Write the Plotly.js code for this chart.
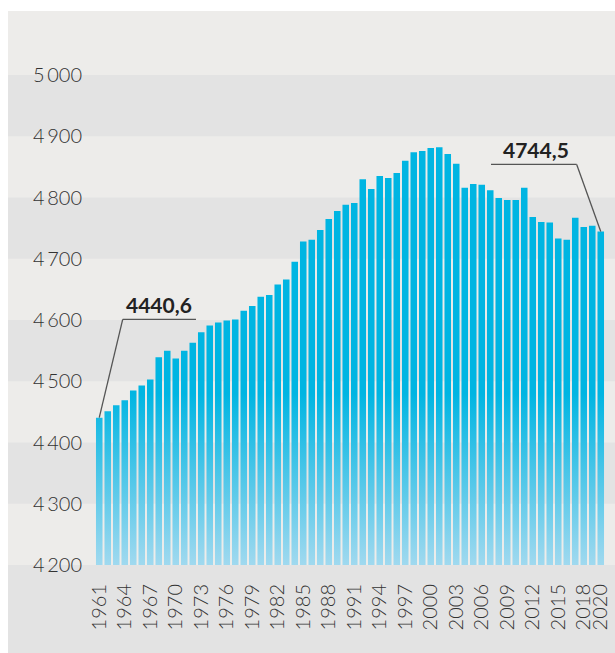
<!DOCTYPE html>
<html><head><meta charset="utf-8">
<script src="https://cdn.plot.ly/plotly-3.0.1.min.js"></script>
<style>html,body{margin:0;padding:0;background:#fff}</style>
</head><body><div id="chart" style="width:615px;height:653px"></div>
<script>
const years = [1961,1962,1963,1964,1965,1966,1967,1968,1969,1970,
  1971,1972,1973,1974,1975,1976,1977,1978,1979,1980,
  1981,1982,1983,1984,1985,1986,1987,1988,1989,1990,
  1991,1992,1993,1994,1995,1996,1997,1998,1999,2000,
  2001,2002,2003,2004,2005,2006,2007,2008,2009,2010,
  2011,2012,2013,2014,2015,2016,2017,2018,2019,2020];
const values = [4440.6,4451,4461,4469,4485,4493,4503,4539,4550,4537,
  4550,4563,4580,4591,4596,4599,4601,4615,4623,4638,
  4641,4658,4666,4695,4728,4731,4747,4765,4778,4788,
  4791,4830,4814,4835,4832,4840,4860,4874,4876,4881,
  4882,4871,4855,4816,4822,4821,4812,4799,4796,4796,
  4816,4768,4760,4759,4733,4731,4767,4752,4754,4744.5];
const xTickVals = [1961,1964,1967,1970,1973,1976,1979,1982,1985,1988,1991,1994,1997,2000,2003,2006,2009,2012,2015,2018,2020];
const xTickText = ['1961','1964','1967','1970','1973','1976','1979','1982','1985','1988','1991','1994','1997','2000','2003','2006','2009','2012','2015','2018','2020'];
const yTickVals = [4200,4300,4400,4500,4600,4700,4800,4900,5000];
const yTickText = ['4\u2009200','4\u2009300','4\u2009400','4\u2009500','4\u2009600','4\u2009700','4\u2009800','4\u2009900','5\u2009000'];
const darkBands = [[4300,4400],[4500,4600],[4700,4800],[4900,5000]];

const fmt = v => String(v).replace('.', ',');
const first = 0, last = values.length - 1;

const DARK = '#e3e3e3', LIGHT = '#edecea';
const shapes = [
  {type:'rect', xref:'paper', yref:'paper', x0:-0.1706, x1:1.05, y0:-0.25, y1:0, fillcolor:DARK, line:{width:0}, layer:'below'},
  {type:'rect', xref:'paper', yref:'paper', x0:-0.1706, x1:1.05, y0:0, y1:1, fillcolor:LIGHT, line:{width:0}, layer:'below'}
];
darkBands.forEach(b => shapes.push({type:'rect', xref:'paper', yref:'y', x0:-0.1706, x1:1.05, y0:b[0], y1:b[1], fillcolor:DARK, line:{width:0}, layer:'below'}));

const lineStyle = {color:'#555555', width:1.3};
const c1 = {ux0:1963.76, ux1:1972.38, uy:4601};
const c2 = {ux0:2007.09, ux1:2017.17, uy:4854};
shapes.push({type:'line', xref:'x', yref:'y', x0:c1.ux0, x1:c1.ux1, y0:c1.uy, y1:c1.uy, line:lineStyle});
shapes.push({type:'line', xref:'x', yref:'y', x0:c1.ux0, y0:c1.uy, x1:years[first], y1:values[first], line:lineStyle});
shapes.push({type:'line', xref:'x', yref:'y', x0:c2.ux0, x1:c2.ux1, y0:c2.uy, y1:c2.uy, line:lineStyle});
shapes.push({type:'line', xref:'x', yref:'y', x0:c2.ux1, y0:c2.uy, x1:years[last], y1:values[last], line:lineStyle});

const annFont = {family:'Lato, sans-serif', size:21, color:'#222222', weight:700};
const annotations = [
  {x:(c1.ux0+c1.ux1)/2, y:c1.uy, xref:'x', yref:'y', text:fmt(values[first]), showarrow:false, yanchor:'bottom', xanchor:'center', font:annFont},
  {x:(c2.ux0+c2.ux1)/2 + 0.2, y:c2.uy, xref:'x', yref:'y', text:fmt(values[last]), showarrow:false, yanchor:'bottom', xanchor:'center', font:annFont}
];

const data = [{
  type:'bar', x:years, y:values, base:0,
  marker:{color:'#00b5e2', line:{width:0}},
  hoverinfo:'skip'
}];

const tickFont = {family:'Lato, sans-serif', size:20, color:'#333333', weight:300};
const layout = {
  width:615, height:653,
  margin:{l:95, r:10, t:11, b:88, pad:0},
  paper_bgcolor:'#ffffff', plot_bgcolor:'rgba(0,0,0,0)',
  showlegend:false, bargap:0.23,
  font:{family:'Lato, sans-serif', color:'#333333'},
  xaxis:{range:[1960.5,2020.5], tickmode:'array', tickvals:xTickVals, ticktext:xTickText, tickangle:-90,
    tickfont:tickFont, showgrid:false, zeroline:false, showline:false, ticks:'', ticklabelstandoff:14},
  yaxis:{range:[4200,5104.5], tickmode:'array', tickvals:yTickVals, ticktext:yTickText,
    tickfont:tickFont, showgrid:false, zeroline:false, showline:false, ticks:'', ticklabelstandoff:12},
  shapes:shapes,
  annotations:annotations
};

Plotly.newPlot('chart', data, layout, {staticPlot:true, displayModeBar:false}).then(gd => {
  try {
    const ya = gd._fullLayout.yaxis;
    const ns = 'http://www.w3.org/2000/svg';
    const defs = gd.querySelector('svg.main-svg defs');
    const grad = document.createElementNS(ns, 'linearGradient');
    grad.setAttribute('id', 'barfade');
    grad.setAttribute('gradientUnits', 'userSpaceOnUse');
    grad.setAttribute('x1', '0'); grad.setAttribute('x2', '0');
    grad.setAttribute('y1', String(ya.l2p(4480)));
    grad.setAttribute('y2', String(ya.l2p(4200)));
    [['0','#00b5e2'],['1','#a0d9ef']].forEach(s => {
      const st = document.createElementNS(ns, 'stop');
      st.setAttribute('offset', s[0]); st.setAttribute('stop-color', s[1]);
      grad.appendChild(st);
    });
    defs.appendChild(grad);
    gd.querySelectorAll('.barlayer .point path').forEach(p => { p.style.fill = 'url(#barfade)'; });
  } catch (e) {}
});
</script>
</body></html>
